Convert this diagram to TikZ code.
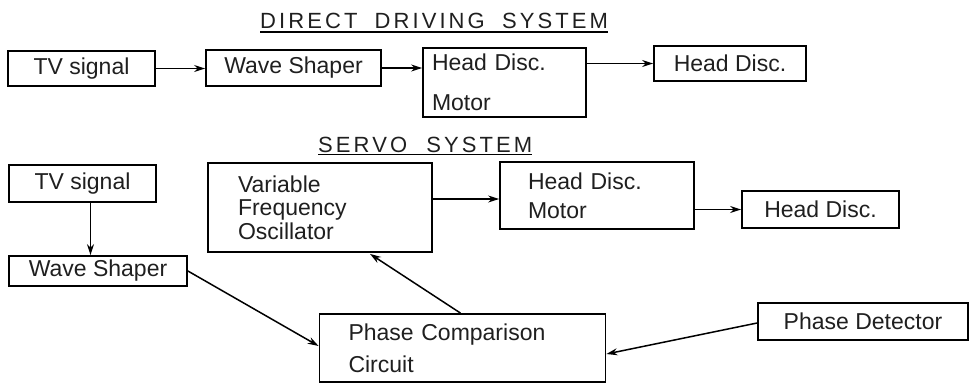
\documentclass[tikz,border=0pt]{standalone}
\usepackage{fontspec}
\setmainfont{Liberation Sans}
\newfontfamily\titlefont[LetterSpace=14]{Liberation Sans}
\usetikzlibrary{arrows.meta}
\begin{document}
\begin{tikzpicture}[x=1pt,y=-1pt,
  blk/.style={draw=black, line width=1.8pt, rectangle, inner sep=0pt,
    font=\fontsize{23}{27}\selectfont, text=black!88},
  lblk/.style={blk, align=left},
  arr/.style={line width=1.5pt, -{Stealth[length=11pt,width=7pt]}},
  ttl/.style={inner sep=0pt, anchor=base west, font=\titlefont\fontsize{22}{24}\selectfont, text=black!88},
  uline/.style={line width=1.4pt}]
\useasboundingbox (0,0) rectangle (970,383);
% titles
\node[ttl] (t1) at (260,28) {DIRECT\hspace{8pt} DRIVING\hspace{8pt} SYSTEM};
\draw[uline] ([yshift=-4pt]t1.base west) -- ([yshift=-4pt]t1.base east);
\node[ttl] (t2) at (318,152) {SERVO\hspace{10pt} SYSTEM};
\draw[uline] ([yshift=-2.5pt]t2.base west) -- ([yshift=-2.5pt]t2.base east);
% direct driving system
\node[blk, minimum width=147, minimum height=35] (tv1) at (81.5,68.5) {TV signal};
\node[blk, minimum width=175, minimum height=36] (ws1) at (293.5,68) {Wave Shaper};
\node[lblk, minimum width=163, minimum height=69, text width=145, inner xsep=9pt,
  font=\fontsize{23}{40}\selectfont] (m1) at (504.5,82.5) {Head Disc.\\Motor};
\node[blk, minimum width=152, minimum height=35] (hd1) at (730,63.5) {Head Disc.};
\draw[arr] (tv1.east) -- (ws1.west |- tv1.east);
\draw[arr] (ws1.east) -- (ws1.east -| m1.west);
\draw[arr] (hd1.west -| m1.east) -- (hd1.west);
% servo system
\node[blk, minimum width=147, minimum height=37] (tv2) at (82.5,183.5) {TV signal};
\node[blk, minimum width=178, minimum height=30] (ws2) at (98,271) {Wave Shaper};
\node[lblk, minimum width=194, minimum height=89, text width=164, inner xsep=30pt,
  font=\fontsize{23}{23.5}\selectfont] (vfo) at (320,207.5) {Variable\\Frequency\\Oscillator};
\node[lblk, minimum width=166, minimum height=67, text width=138, inner xsep=28pt,
  font=\fontsize{23}{29}\selectfont] (m2) at (597,195.5) {Head Disc.\\Motor};
\node[blk, minimum width=157, minimum height=37] (hd2) at (820.5,209.5) {Head Disc.};
\node[lblk, minimum width=257, minimum height=68, text width=228, inner xsep=29pt,
  font=\fontsize{23}{32}\selectfont] (pc) at (462.5,348) {Phase Comparison\\Circuit};
\node[blk, minimum width=210, minimum height=37] (pd) at (863,321.5) {Phase Detector};
\draw[arr] ([xshift=8pt]tv2.south) -- ([xshift=8pt]tv2.south |- ws2.north);
\draw[arr] ([yshift=8.5pt]vfo.east) -- ([yshift=8.5pt]vfo.east -| m2.west);
\draw[arr] (hd2.west -| m2.east) -- (hd2.west);
\draw[arr] (ws2.east) -- ([yshift=2pt]pc.west);
\draw[arr] ([xshift=-2pt]pc.north) -- ([xshift=50pt,yshift=-1pt]vfo.south);
\draw[arr] ([yshift=-1.5pt]pd.west) -- ([yshift=-6pt]pc.east);
\end{tikzpicture}
\end{document}
